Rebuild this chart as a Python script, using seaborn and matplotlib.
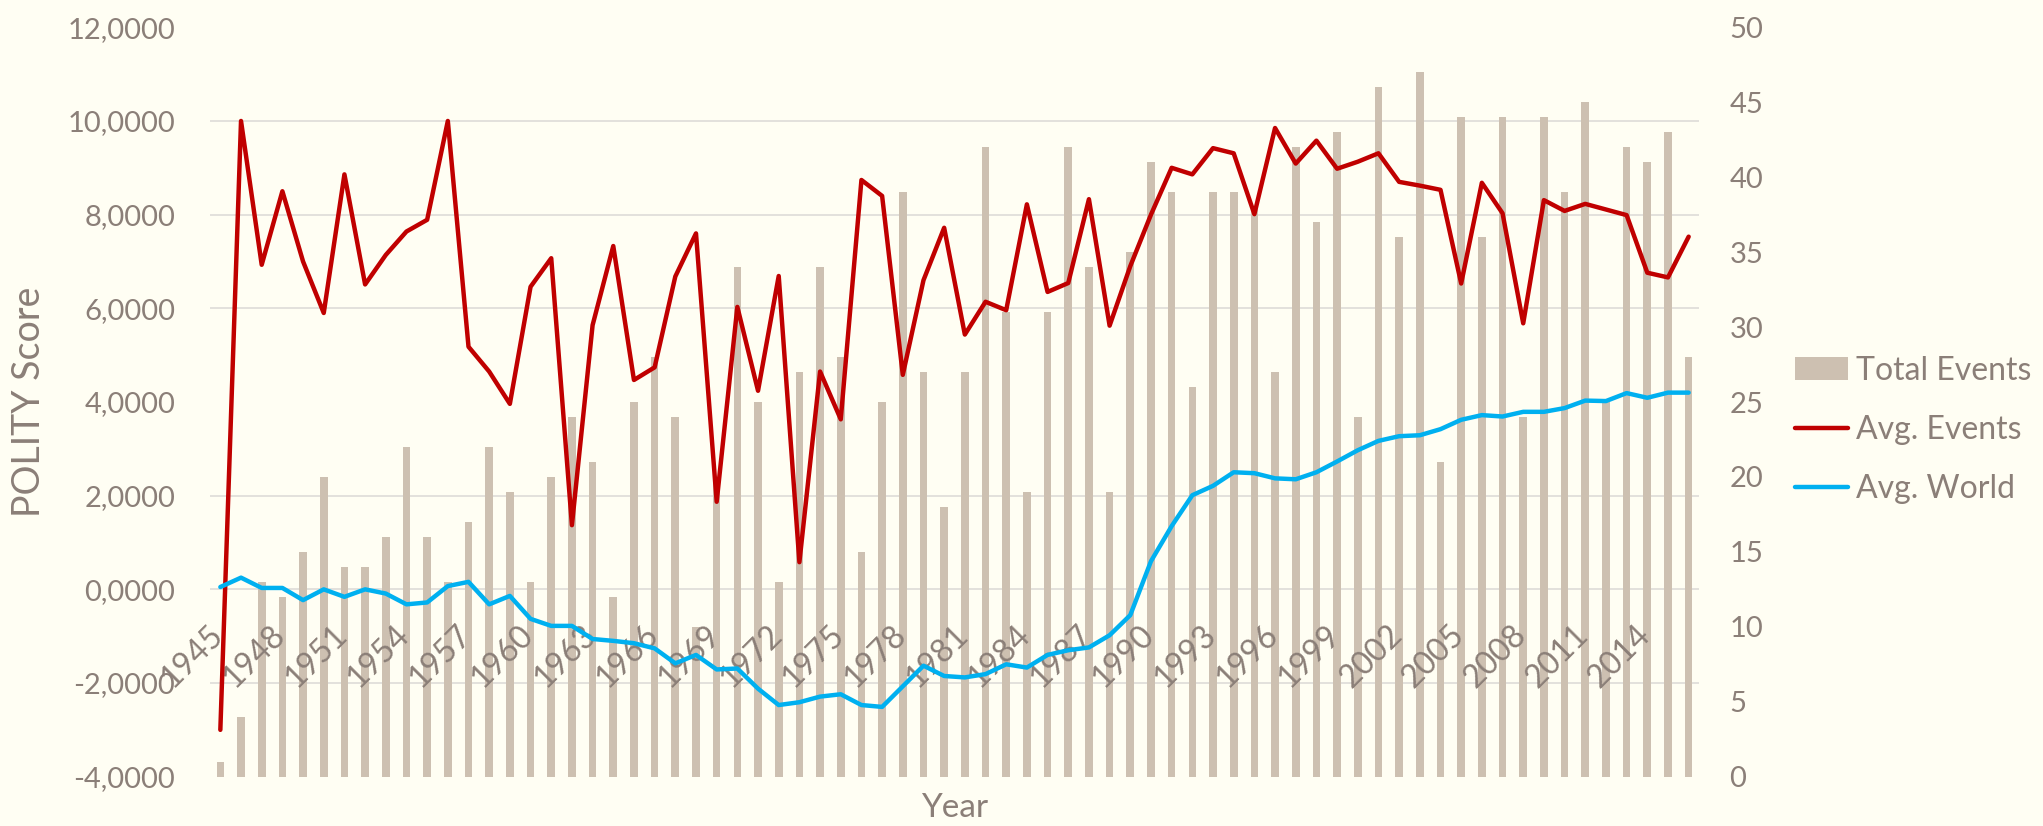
import numpy as np
import pandas as pd
import matplotlib
matplotlib.use("Agg")
import matplotlib.pyplot as plt
import matplotlib.transforms as mtransforms
from matplotlib.ticker import FixedLocator, FuncFormatter
from matplotlib.patches import Patch
from matplotlib.lines import Line2D
import seaborn as sns

# ---------------- data ----------------
years = list(range(1945, 2017))

total_events = [1, 4, 13, 12, 15, 20, 14, 14, 16, 22,
                16, 13, 17, 22, 19, 13, 20, 24, 21, 12,
                25, 28, 24, 10, 20, 34, 25, 13, 27, 34,
                28, 15, 25, 39, 27, 18, 27, 42, 31, 19,
                31, 42, 34, 19, 35, 41, 39, 26, 39, 39,
                38, 27, 42, 37, 43, 24, 46, 36, 47, 21,
                44, 36, 44, 24, 44, 39, 45, 25, 42, 41,
                43, 28]

avg_events = [-3.0, 10.0, 6.93, 8.5, 7.0, 5.9, 8.86, 6.51, 7.14, 7.64,
              7.89, 10.0, 5.18, 4.65, 3.96, 6.46, 7.07, 1.37, 5.64, 7.33,
              4.47, 4.74, 6.68, 7.60, 1.87, 6.03, 4.24, 6.69, 0.58, 4.65,
              3.63, 8.74, 8.40, 4.58, 6.60, 7.72, 5.44, 6.14, 5.96, 8.22,
              6.35, 6.54, 8.33, 5.63, 6.9, 8.0, 9.0, 8.86, 9.42, 9.31,
              8.01, 9.85, 9.09, 9.58, 8.98, 9.13, 9.31, 8.70, 8.62, 8.53,
              6.53, 8.68, 8.03, 5.68, 8.31, 8.08, 8.23, 8.11, 7.99, 6.76,
              6.66, 7.53]

avg_world = [0.05, 0.25, 0.03, 0.03, -0.23, 0.0, -0.16, 0.0, -0.09, -0.32,
             -0.28, 0.07, 0.16, -0.32, -0.14, -0.63, -0.78, -0.78, -1.06, -1.10,
             -1.15, -1.26, -1.58, -1.40, -1.71, -1.69, -2.12, -2.47, -2.41, -2.29,
             -2.24, -2.47, -2.51, -2.07, -1.63, -1.85, -1.88, -1.81, -1.60, -1.67,
             -1.40, -1.30, -1.24, -0.98, -0.55, 0.6, 1.35, 2.01, 2.21, 2.50,
             2.48, 2.37, 2.35, 2.50, 2.73, 2.97, 3.17, 3.27, 3.29, 3.42,
             3.62, 3.72, 3.69, 3.79, 3.79, 3.87, 4.03, 4.02, 4.19, 4.09,
             4.20, 4.20]

left_ticks = [-4, -2, 0, 2, 4, 6, 8, 10, 12]
right_ticks = [0, 5, 10, 15, 20, 25, 30, 35, 40, 45, 50]
label_step = 3

series_labels = ["Total Events", "Avg. Events", "Avg. World"]

# ---------------- style ----------------
BG = "#FFFEF3"
BAR = "#CDC0B1"
RED = "#C00000"
BLUE = "#00B0F0"
TXT = "#8B7F78"
GRID = "#E3E1DC"
LW = 3.2

sns.set_theme(style="white")
plt.rcParams["font.family"] = ["Lato", "DejaVu Sans"]

W, H = 2043, 826
fig = plt.figure(figsize=(W / 100, H / 100), dpi=100, facecolor=BG)
ax = fig.add_axes([210 / W, 1 - 776.7 / H, 1489 / W, 749.4 / H])
ax2 = ax.twinx()

df = pd.DataFrame({
    "Year": [str(y) for y in years],
    "pos": np.arange(len(years)),
    "Total Events": total_events,
    "Avg. Events": avg_events,
    "Avg. World": avg_world,
})

# bars on the secondary (right) axis
sns.barplot(data=df, x="Year", y="Total Events", ax=ax2, color=BAR,
            saturation=1, width=0.37, errorbar=None, linewidth=0)

# lines on the primary (left) axis
sns.lineplot(data=df, x="pos", y="Avg. Events", ax=ax, color=RED, lw=LW)
sns.lineplot(data=df, x="pos", y="Avg. World", ax=ax, color=BLUE, lw=LW)
for ln in ax.get_lines():
    ln.set_linewidth(LW)
    ln.set_solid_capstyle("round")
    ln.set_solid_joinstyle("round")

# layering: lines above bars
ax.set_zorder(ax2.get_zorder() + 1)
ax.patch.set_visible(False)
ax2.patch.set_visible(False)

n = len(years)
ax.set_xlim(-0.5, n - 0.5)
ax.set_ylim(left_ticks[0], left_ticks[-1])
ax2.set_ylim(right_ticks[0], right_ticks[-1])

# gridlines (at left-axis ticks) drawn behind bars on ax2
lo, hi = left_ticks[0], left_ticks[-1]
rlo, rhi = right_ticks[0], right_ticks[-1]
grid_vals = [rlo + (v - lo) / (hi - lo) * (rhi - rlo) for v in left_ticks]
ax2.yaxis.set_minor_locator(FixedLocator(grid_vals))
ax2.set_axisbelow(True)
ax2.grid(False)
ax2.grid(which="minor", axis="y", color=GRID, linewidth=1.4)
ax.grid(False)

# spines
for a in (ax, ax2):
    for s in a.spines.values():
        s.set_visible(False)
ax.spines["bottom"].set_position(("data", 0))

# y ticks
ax.set_yticks(left_ticks)
ax.yaxis.set_major_formatter(FuncFormatter(lambda v, p: f"{v:.4f}".replace(".", ",")))
ax.tick_params(axis="y", length=0, pad=25, labelsize=21, labelcolor=TXT)
ax2.set_yticks(right_ticks)
ax2.yaxis.set_major_formatter(FuncFormatter(lambda v, p: f"{v:.0f}"))
ax2.tick_params(axis="y", which="both", length=0, pad=22, labelsize=21, labelcolor=TXT)

# x ticks
xpos = list(df["pos"][::label_step])
xlab = list(df["Year"][::label_step])
ax.set_xticks(xpos)
ax.set_xticklabels(xlab, rotation=45, ha="right", va="top")
ax.tick_params(axis="x", length=0, pad=22, labelsize=23, labelcolor=TXT)
offset = mtransforms.ScaledTranslation(9 / 100, 0, fig.dpi_scale_trans)
for lbl in ax.get_xticklabels():
    lbl.set_transform(lbl.get_transform() + offset)

# axis labels
ax2.set_xlabel("")
ax2.set_ylabel("")
ax.set_xlabel("Year", fontsize=24, color=TXT)
ax.xaxis.set_label_coords(0.5, (776.7 - 808) / 749.4)
ax.xaxis.label.set_va("center")
ax.set_ylabel("POLITY Score", fontsize=27, color=TXT)
ax.yaxis.set_label_coords((29 - 210) / 1489, 0.5)
ax.yaxis.label.set_va("center")

# legend
handles = [
    Patch(facecolor=BAR, edgecolor="none"),
    Line2D([], [], color=RED, linewidth=3.2, solid_capstyle="round"),
    Line2D([], [], color=BLUE, linewidth=3.2, solid_capstyle="round"),
]
leg = fig.legend(handles, series_labels, loc="center left",
                 bbox_to_anchor=(1795 / W, 1 - 430 / H), frameon=False,
                 fontsize=23, handlelength=1.65, handletextpad=0.25,
                 labelspacing=0.92, borderpad=0, borderaxespad=0)
for t in leg.get_texts():
    t.set_color(TXT)

fig.savefig("out.png", dpi=100, facecolor=BG)
